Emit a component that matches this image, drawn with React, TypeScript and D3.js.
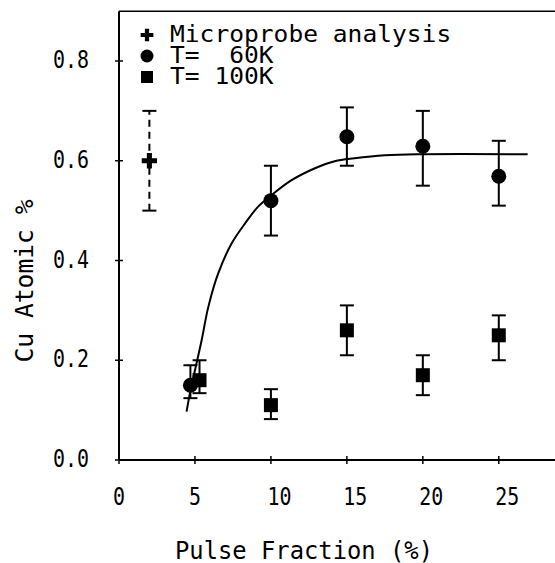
import React, { useRef, useEffect } from "react";
import * as d3 from "d3";

const W = 555;
const H = 563;

// x = pulse fraction (%), y = Cu atomic %, lo/hi = error bar ends
const microprobe = [{ x: 2, y: 0.6, lo: 0.5, hi: 0.7 }];
const t60 = [
  { x: 4.7, y: 0.15, lo: 0.124, hi: 0.19 },
  { x: 10, y: 0.52, lo: 0.45, hi: 0.59 },
  { x: 15, y: 0.648, lo: 0.59, hi: 0.707 },
  { x: 20, y: 0.629, lo: 0.55, hi: 0.7 },
  { x: 25, y: 0.569, lo: 0.51, hi: 0.64 }
];
const t100 = [
  { x: 5.3, y: 0.16, lo: 0.134, hi: 0.2 },
  { x: 10, y: 0.11, lo: 0.082, hi: 0.142 },
  { x: 15, y: 0.26, lo: 0.21, hi: 0.31 },
  { x: 20, y: 0.17, lo: 0.13, hi: 0.21 },
  { x: 25, y: 0.25, lo: 0.2, hi: 0.29 }
];
// fitted curve
const fit = [
  [4.45, 0.097], [4.67, 0.134], [5.0, 0.18], [5.44, 0.24], [5.88, 0.307],
  [6.53, 0.374], [7.41, 0.434], [8.29, 0.474], [9.16, 0.508], [10.04, 0.531],
  [11.36, 0.561], [12.9, 0.585], [14.2, 0.599], [15.5, 0.605], [17.5, 0.611],
  [20, 0.613], [26.9, 0.613]
];
const xTicks = [0, 5, 10, 15, 20, 25];
const yTicks = [0, 0.2, 0.4, 0.6, 0.8];
const legendItems = ["Microprobe analysis", "T=  60K", "T= 100K"];

const FONT = "'DejaVu Sans Mono', monospace";

function App() {
  const svgRef = useRef(null);

  useEffect(() => {
    const svg = d3.select(svgRef.current);
    svg.selectAll("*").remove();

    const x = d3.scaleLinear().domain([0, 28.7]).range([119, 555]);
    const y = d3.scaleLinear().domain([0, 0.8]).range([460, 61]);
    const top = y(0.9);

    const g = svg.append("g").attr("stroke", "#000").attr("fill", "none");

    // frame: left axis, bottom axis, top line
    g.append("line").attr("x1", x(0)).attr("x2", x(0)).attr("y1", top).attr("y2", y(0)).attr("stroke-width", 2);
    g.append("line").attr("x1", x(0)).attr("x2", W).attr("y1", y(0)).attr("y2", y(0)).attr("stroke-width", 2);
    g.append("line").attr("x1", x(0)).attr("x2", W).attr("y1", top).attr("y2", top).attr("stroke-width", 1.5);

    g.selectAll(".xt").data(xTicks).join("line").attr("class", "xt")
      .attr("x1", d => x(d)).attr("x2", d => x(d))
      .attr("y1", y(0) - 4).attr("y2", y(0) + 4).attr("stroke-width", 1.5);
    g.selectAll(".yt").data(yTicks).join("line").attr("class", "yt")
      .attr("x1", x(0) - 4).attr("x2", x(0) + 4)
      .attr("y1", d => y(d)).attr("y2", d => y(d)).attr("stroke-width", 1.5);

    const txt = svg.append("g").attr("font-family", FONT).attr("fill", "#000");

    // two-digit labels sit a bit right of their tick, as in the plot
    txt.selectAll(".xl").data(xTicks).join("text").attr("class", "xl")
      .attr("x", d => x(d) + (String(d).length - 1) * 8.5).attr("y", 505).attr("text-anchor", "middle")
      .attr("font-size", 24).attr("textLength", d => String(d).length * 12)
      .attr("lengthAdjust", "spacingAndGlyphs").text(d => d);
    txt.selectAll(".yl").data(yTicks).join("text").attr("class", "yl")
      .attr("x", 89).attr("y", d => y(d) + 7).attr("text-anchor", "end")
      .attr("font-size", 24).attr("textLength", 36)
      .attr("lengthAdjust", "spacingAndGlyphs").text(d => d.toFixed(1));

    txt.append("text").attr("x", 304).attr("y", 559).attr("text-anchor", "middle")
      .attr("font-size", 24).attr("textLength", 258).attr("lengthAdjust", "spacingAndGlyphs")
      .text("Pulse Fraction (%)");
    txt.append("text").attr("transform", "translate(33,281) rotate(-90)")
      .attr("text-anchor", "middle").attr("font-size", 24)
      .attr("textLength", 163).attr("lengthAdjust", "spacingAndGlyphs")
      .text("Cu Atomic %");

    // legend
    txt.selectAll(".lg").data(legendItems).join("text").attr("class", "lg")
      .attr("x", 170).attr("y", (d, i) => 42 + i * 21).attr("font-size", 23)
      .attr("textLength", d => d.length * 14.8).attr("lengthAdjust", "spacingAndGlyphs")
      .attr("xml:space", "preserve").style("white-space", "pre")
      .text(d => d);
    const lx = 147;
    svg.append("path").attr("d", d3.symbol(d3.symbolCross, 90)()).attr("transform", `translate(${lx},35)`);
    svg.append("circle").attr("cx", lx).attr("cy", 56).attr("r", 6.5);
    svg.append("rect").attr("x", lx - 6).attr("y", 71).attr("width", 12).attr("height", 12);

    // error bars
    const bars = (data, dashed) => {
      const b = g.append("g").attr("stroke-width", 2);
      b.selectAll(".v").data(data).join("line").attr("class", "v")
        .attr("x1", d => x(d.x)).attr("x2", d => x(d.x))
        .attr("y1", d => y(d.lo)).attr("y2", d => y(d.hi))
        .attr("stroke-dasharray", dashed ? "7,5" : null);
      b.selectAll(".c").data(data.flatMap(d => [[d.x, d.lo], [d.x, d.hi]])).join("line").attr("class", "c")
        .attr("x1", d => x(d[0]) - 7).attr("x2", d => x(d[0]) + 7)
        .attr("y1", d => y(d[1])).attr("y2", d => y(d[1]));
    };
    bars(microprobe, true);
    bars(t60, false);
    bars(t100, false);

    // fitted curve
    g.append("path").datum(fit)
      .attr("d", d3.line().x(d => x(d[0])).y(d => y(d[1])).curve(d3.curveCatmullRom))
      .attr("stroke-width", 2);

    svg.selectAll(".mp").data(microprobe).join("path").attr("class", "mp")
      .attr("d", d3.symbol(d3.symbolCross, 130)())
      .attr("transform", d => `translate(${x(d.x)},${y(d.y)})`);
    svg.selectAll(".c60").data(t60).join("circle").attr("class", "c60")
      .attr("cx", d => x(d.x)).attr("cy", d => y(d.y)).attr("r", 7.5);
    svg.selectAll(".s100").data(t100).join("rect").attr("class", "s100")
      .attr("x", d => x(d.x) - 7).attr("y", d => y(d.y) - 7)
      .attr("width", 14).attr("height", 14);
  }, []);

  return (
    <svg
      ref={svgRef}
      width={W}
      height={H}
      style={{ position: "absolute", left: 0, top: 0, background: "#fff" }}
    />
  );
}

export default App;
